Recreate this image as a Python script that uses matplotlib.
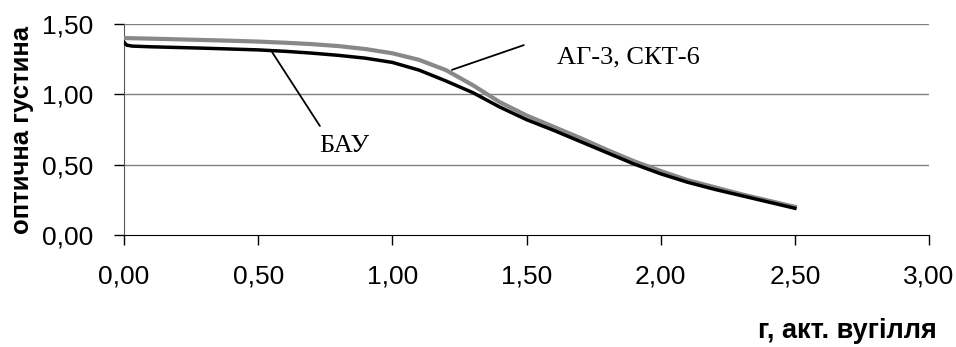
import numpy as np
import matplotlib.pyplot as plt

# концентрація активованого вугілля, г
ag_x = [0.0, 0.1, 0.2, 0.3, 0.4, 0.5, 0.6, 0.7, 0.8, 0.9, 1.0, 1.1, 1.2,
        1.3, 1.4, 1.5, 1.6, 1.7, 1.8, 1.9, 2.0, 2.1, 2.2, 2.3, 2.4, 2.5]
ag_y = [1.40, 1.396, 1.391, 1.386, 1.381, 1.375, 1.367, 1.357, 1.343, 1.322,
        1.292, 1.245, 1.172, 1.065, 0.945, 0.85, 0.77, 0.69, 0.605, 0.525,
        0.455, 0.39, 0.34, 0.29, 0.245, 0.20]

bau_x = [0.0, 0.01, 0.03, 0.1, 0.2, 0.3, 0.4, 0.5, 0.6, 0.7, 0.8, 0.9, 1.0,
         1.1, 1.2, 1.3, 1.4, 1.5, 1.6, 1.7, 1.8, 1.9, 2.0, 2.1, 2.2, 2.3,
         2.4, 2.5]
bau_y = [1.37, 1.35, 1.343, 1.338, 1.333, 1.328, 1.322, 1.316, 1.306, 1.293,
         1.277, 1.257, 1.227, 1.172, 1.095, 1.012, 0.91, 0.82, 0.745, 0.665,
         0.585, 0.505, 0.435, 0.375, 0.325, 0.28, 0.235, 0.19]

xticks = [0.0, 0.5, 1.0, 1.5, 2.0, 2.5, 3.0]
yticks = [0.0, 0.5, 1.0, 1.5]

plt.rcParams['font.family'] = ['Liberation Sans', 'DejaVu Sans']

fig = plt.figure(figsize=(9.56, 3.47), dpi=100)
ax = fig.add_axes([0.1297, 0.3228, 0.8421, 0.608])

for y in yticks[1:]:
    ax.axhline(y, color='#808080', linewidth=1.0, zorder=1)

ax.plot(ag_x, ag_y, color='#888888', linewidth=3.0, zorder=3,
        solid_joinstyle='round')
ax.plot(bau_x, bau_y, color='black', linewidth=2.5, zorder=4,
        solid_joinstyle='round')

# підписи кривих з виносками
ax.annotate('', xy=(1.222, 1.174), xytext=(1.49, 1.35),
            arrowprops=dict(arrowstyle='-', color='black', lw=1.3,
                            shrinkA=0, shrinkB=0))
ax.text(1.614, 1.223, 'АГ-3, СКТ-6', fontsize=19, family='Liberation Serif',
        va='baseline', ha='left')
ax.annotate('', xy=(0.552, 1.30), xytext=(0.73, 0.775),
            arrowprops=dict(arrowstyle='-', color='black', lw=1.3,
                            shrinkA=0, shrinkB=0))
ax.text(0.727, 0.59, 'БАУ', fontsize=19, family='Liberation Serif',
        va='baseline', ha='left')

ax.set_xlim(0, 3.0)
ax.set_ylim(0, 1.5)
ax.set_xticks(xticks)
ax.set_yticks(yticks)
ax.set_xticklabels([f'{v:.2f}'.replace('.', ',') for v in xticks], fontsize=19)
ax.set_yticklabels([f'{v:.2f}'.replace('.', ',') for v in yticks], fontsize=19)
ax.tick_params(axis='both', direction='out', length=7, width=1, color='black')
ax.tick_params(axis='x', pad=14)
ax.tick_params(axis='y', pad=15)

ax.spines['top'].set_visible(False)
ax.spines['right'].set_visible(False)
ax.spines['left'].set_color('#555555')
ax.spines['bottom'].set_color('black')

ax.set_ylabel('оптична густина', fontsize=18.5, fontweight='bold', labelpad=6)
fig.text(0.98, 0.045, 'г, акт. вугілля', fontsize=19.5, fontweight='bold',
         ha='right', va='center')

fig.savefig('out.png', dpi=100)
